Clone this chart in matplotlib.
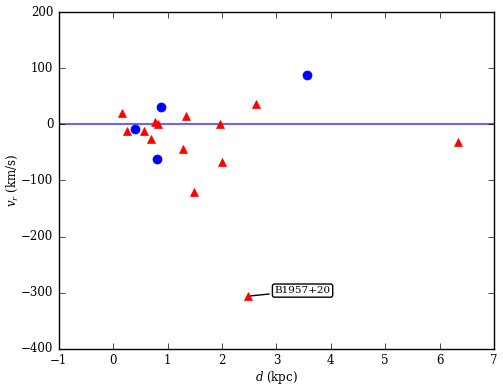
import numpy as np
import matplotlib
matplotlib.use('Agg')
import matplotlib.pyplot as plt

# distances (kpc) and radial velocities (km/s)
d_tri = [0.16, 0.26, 0.56, 0.70, 0.77, 0.82, 1.29, 1.34, 1.49, 1.96, 2.00, 2.62, 6.34, 2.48]
v_tri = [21, -11, -11, -26, 5, 1, -44, 15, -120, 0.5, -67, 37, -32, -306]
d_circ = [0.40, 0.81, 0.87, 3.57]
v_circ = [-8, -62, 31, 88]
label_name = 'B1957+20'
label_d, label_v = 2.48, -306

plt.style.use('classic')
plt.rcParams['font.family'] = 'serif'
plt.rcParams['font.serif'] = ['DejaVu Serif']
plt.rcParams['mathtext.fontset'] = 'dejavuserif'
plt.rcParams['font.size'] = 8.5

fig = plt.figure(figsize=(5.03, 3.89), dpi=100)
ax = fig.add_axes([0.117, 0.103, 0.865, 0.866])

ax.axhline(0, color='b', alpha=0.6, lw=1.5)
ax.plot(d_tri, v_tri, 'r^', ms=6, mec='r')
ax.plot(d_circ, v_circ, 'bo', ms=6.5, mec='b')

ax.annotate(label_name, xy=(label_d, label_v), xytext=(19, 4), textcoords='offset points',
            fontsize=7.5, ha='left', va='center',
            bbox=dict(boxstyle='round,pad=0.2', fc='w', ec='k'),
            arrowprops=dict(arrowstyle='-', color='k'))

ax.set_xlim(-1, 7)
ax.set_ylim(-400, 200)
ax.set_xlabel('$d$ (kpc)', labelpad=1)
ax.set_ylabel('$v_r$ (km/s)', labelpad=1)

fig.savefig('out.png', dpi=100)
